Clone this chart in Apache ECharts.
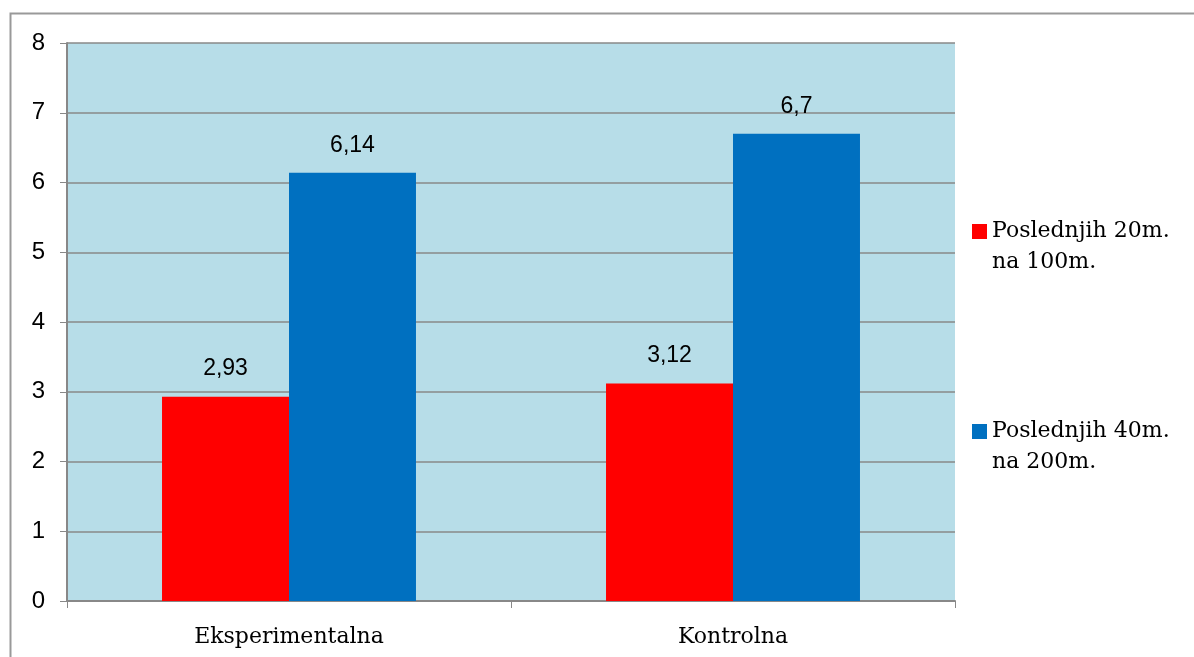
<!DOCTYPE html>
<html>
<head>
<meta charset="utf-8">
<script src="https://cdn.jsdelivr.net/npm/echarts@6/dist/echarts.min.js"></script>
<style>
  html, body { margin: 0; padding: 0; background: #fff; }
  #chart { width: 1194px; height: 657px; }
</style>
</head>
<body>
<div id="chart"></div>
<script>
var categories = ['Eksperimentalna', 'Kontrolna'];
var seriesNames = ['Poslednjih 20m.\nna 100m.', 'Poslednjih 40m.\nna 200m.'];
var values20 = [2.93, 3.12];
var values40 = [6.14, 6.7];
var labels20 = ['2,93', '3,12'];
var labels40 = ['6,14', '6,7'];

var myChart = echarts.init(document.getElementById('chart'));

function barLabel(texts) {
  return {
    show: true,
    position: 'top',
    distance: 16,
    fontFamily: 'Liberation Sans',
    fontSize: 23,
    color: '#000',
    formatter: function (p) { return texts[p.dataIndex]; }
  };
}

var legendText = {
  fontFamily: 'DejaVu Serif',
  fontSize: 22,
  color: '#000',
  lineHeight: 31
};

// blank first line keeps the square level with the first text line
function legendFmt(name) { return '\n' + name; }

var option = {
  animation: false,
  graphic: [{
    type: 'rect',
    shape: { x: 10.5, y: 13.5, width: 1300, height: 800 },
    style: { fill: 'none', stroke: '#999', lineWidth: 2 },
    z: -1
  }],
  grid: {
    left: 67, right: 239, top: 43, bottom: 56,
    show: true,
    backgroundColor: '#b7dde8',
    borderWidth: 0
  },
  legend: [{
    orient: 'vertical',
    left: 972,
    top: 185,
    padding: 0,
    itemWidth: 15,
    itemHeight: 15,
    icon: 'rect',
    data: [seriesNames[0]],
    formatter: legendFmt,
    textStyle: legendText
  }, {
    orient: 'vertical',
    left: 972,
    top: 385,
    padding: 0,
    itemWidth: 15,
    itemHeight: 15,
    icon: 'rect',
    data: [seriesNames[1]],
    formatter: legendFmt,
    textStyle: legendText
  }],
  xAxis: {
    type: 'category',
    data: categories,
    axisLine: { lineStyle: { color: '#888', width: 2 } },
    axisTick: { show: true, length: 7, lineStyle: { color: '#888' } },
    axisLabel: {
      fontFamily: 'DejaVu Serif',
      fontSize: 22,
      color: '#000',
      margin: 25
    }
  },
  yAxis: {
    type: 'value',
    min: 0,
    max: 8,
    interval: 1,
    axisLine: { show: true, lineStyle: { color: '#888', width: 2 } },
    axisTick: { show: true, length: 7, lineStyle: { color: '#888' } },
    splitLine: { lineStyle: { color: '#888', width: 1.5 } },
    axisLabel: {
      fontFamily: 'Liberation Sans',
      fontSize: 24,
      color: '#000',
      margin: 22
    }
  },
  series: [{
    name: seriesNames[0],
    type: 'bar',
    data: values20,
    barGap: '0%',
    barCategoryGap: '42.8%',
    itemStyle: { color: '#ff0000' },
    label: barLabel(labels20)
  }, {
    name: seriesNames[1],
    type: 'bar',
    data: values40,
    barGap: '0%',
    barCategoryGap: '42.8%',
    itemStyle: { color: '#0070c0' },
    label: barLabel(labels40)
  }]
};

myChart.setOption(option);
</script>
</body>
</html>
